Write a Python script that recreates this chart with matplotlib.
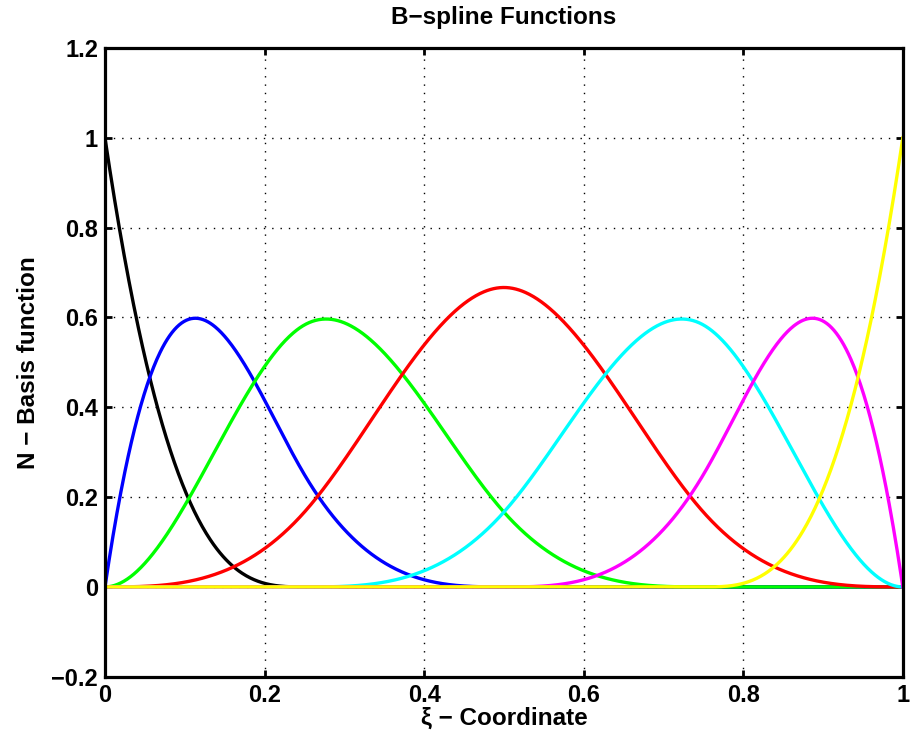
import numpy as np
import matplotlib
matplotlib.use("Agg")
import matplotlib.pyplot as plt

# Data: knot vector and polynomial degree
knots = [0, 0, 0, 0, 0.25, 0.5, 0.75, 1, 1, 1, 1]
degree = 3
colors = ["black", "#0000ff", "#00ff00", "#ff0000", "#00ffff", "#ff00ff", "#ffff00"]
xticks = [0, 0.2, 0.4, 0.6, 0.8, 1]
yticks = [-0.2, 0, 0.2, 0.4, 0.6, 0.8, 1, 1.2]

def basis(i, p, t, U):
    if p == 0:
        if U[i + 1] == U[-1]:
            return np.where((t >= U[i]) & (t <= U[i + 1]) & (U[i] < U[i + 1]), 1.0, 0.0)
        return np.where((t >= U[i]) & (t < U[i + 1]), 1.0, 0.0)
    out = np.zeros_like(t)
    d1 = U[i + p] - U[i]
    if d1 > 0:
        out += (t - U[i]) / d1 * basis(i, p - 1, t, U)
    d2 = U[i + p + 1] - U[i + 1]
    if d2 > 0:
        out += (U[i + p + 1] - t) / d2 * basis(i + 1, p - 1, t, U)
    return out

xi = np.linspace(0, 1, 1001)
n = len(knots) - degree - 1

plt.rcParams['font.family'] = ['Liberation Sans', 'DejaVu Sans']
fig = plt.figure(figsize=(9.16, 7.38), dpi=100)
ax = fig.add_axes([0.1146, 0.083, 0.871, 0.852])

for i in range(n):
    ax.plot(xi, basis(i, degree, xi, knots), color=colors[i % len(colors)], lw=2.4)

ax.set_xlim(0, 1)
ax.set_ylim(-0.2, 1.2)
ax.set_xticks(xticks)
ax.set_yticks(yticks)
ax.set_xticklabels(["0", "0.2", "0.4", "0.6", "0.8", "1"])
ax.set_yticklabels(["\u22120.2", "0", "0.2", "0.4", "0.6", "0.8", "1", "1.2"])
ax.grid(True, linestyle=(0, (1, 5)), color="black", lw=1.0)
ax.tick_params(direction="in", length=5, width=2, top=True, right=True,
               labelsize=17, pad=5)
for lab in ax.get_xticklabels() + ax.get_yticklabels():
    lab.set_fontweight("bold")
for s in ax.spines.values():
    s.set_linewidth(2.3)

ax.set_title("B\u2212spline Functions", fontsize=17.5, fontweight="bold", pad=17)
ax.set_xlabel("\u03be \u2212 Coordinate", fontsize=17.5, fontweight="bold", labelpad=0)
ax.set_ylabel("N \u2212 Basis function", fontsize=17.5, fontweight="bold", labelpad=8)

fig.savefig("out.png", dpi=100)
